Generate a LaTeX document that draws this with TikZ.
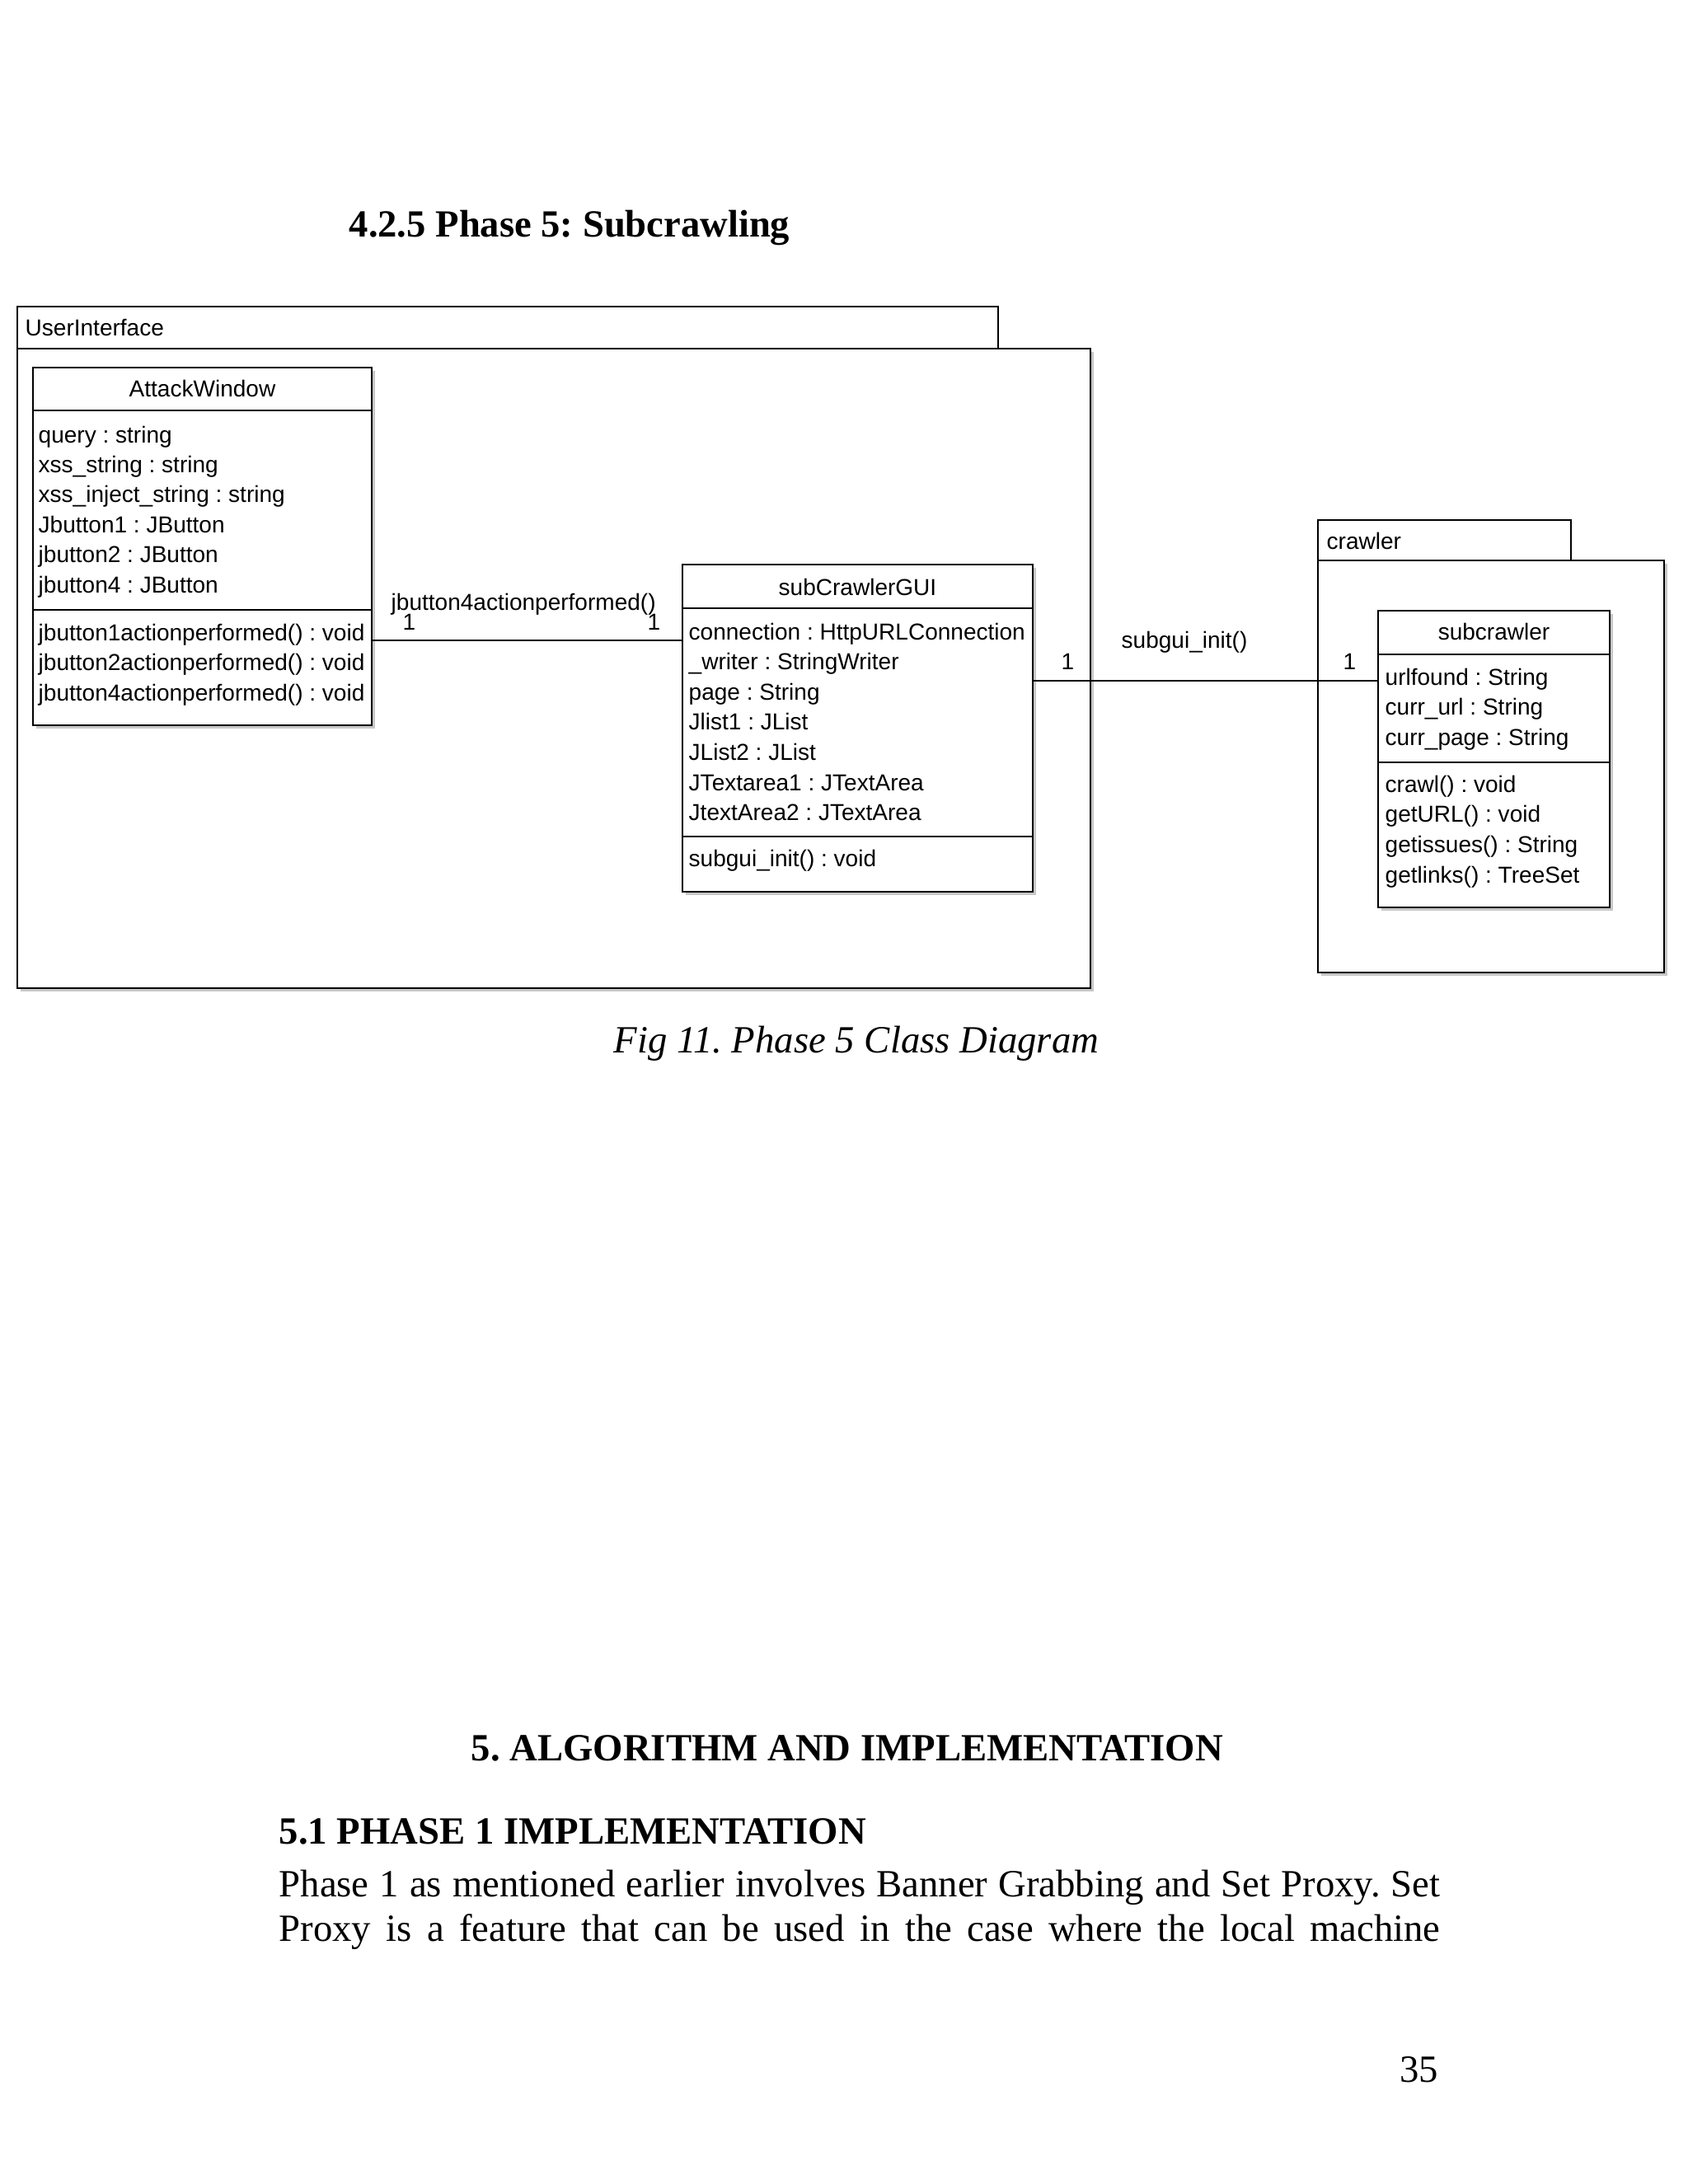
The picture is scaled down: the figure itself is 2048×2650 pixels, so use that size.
\documentclass[tikz,border=0pt]{standalone}
\usepackage{fontspec}
\setmainfont{Liberation Serif}
\newfontfamily\umlfont{Liberation Sans}
\usetikzlibrary{fit,shadows}
\frenchspacing
\begin{document}
\frenchspacing
\begin{tikzpicture}[x=0.01cm,y=-0.01cm,
  boxline/.style={draw, line width=0.8pt},
  shadowed/.style={drop shadow={shadow xshift=0.035cm, shadow yshift=-0.035cm, fill=black!22, opacity=1}},
  umlbox/.style={boxline, fill=white, inner sep=0pt, shadowed},
  pkgbody/.style={boxline, fill=white, inner sep=0pt, shadowed},
  pkgtab/.style={boxline, fill=white, inner sep=0pt},
  utxt/.style={anchor=base west, inner sep=0pt, font=\umlfont\fontsize{7.97pt}{9pt}\selectfont},
  uname/.style={anchor=base, inner sep=0pt, font=\umlfont\fontsize{7.97pt}{9pt}\selectfont},
  conn/.style={line width=0.8pt},
  serif/.style={anchor=base west, inner sep=0pt, font=\fontsize{13.29pt}{16pt}\selectfont},
]
\fill[white] (0,0) rectangle (2048,2650);
\useasboundingbox (0,0) rectangle (2048,2650);

% heading
\node[serif, font=\fontsize{13.25pt}{16pt}\selectfont\bfseries] (title) at (423,287) {4.2.5 Phase 5: Subcrawling};

% UserInterface package
\node[pkgbody, fit={(21,423) (1323,1199)}] (uibody) {};
\node[pkgtab, fit={(21,372) (1211,423)}] (uitab) {};
\node[utxt] (uilabel) at (30,407) {UserInterface};

% crawler package
\node[pkgbody, fit={(1599,680) (2019,1180)}] (crbody) {};
\node[pkgtab, fit={(1599,631) (1906,680)}] (crtab) {};
\node[utxt] (crlabel) at (1609,666) {crawler};

% AttackWindow
\node[umlbox, fit={(40,446) (451,880)}] (aw) {};
\coordinate (aw1) at (0,498);
\coordinate (aw2) at (0,740);
\draw[boxline] (aw.west |- aw1) -- (aw.east |- aw1);
\draw[boxline] (aw.west |- aw2) -- (aw.east |- aw2);
\node[uname] (awname) at (245.5,481) {AttackWindow};
\foreach \t [count=\i from 0] in {query : string, xss\_string : string, xss\_inject\_string : string, Jbutton1 : JButton, jbutton2 : JButton, jbutton4 : JButton}
  \node[utxt] (awa\i) at (46,537+36.4*\i) {\t};
\foreach \t [count=\i from 0] in {jbutton1actionperformed() : void, jbutton2actionperformed() : void, jbutton4actionperformed() : void}
  \node[utxt] (awm\i) at (46,777+36.6*\i) {\t};

% subCrawlerGUI
\node[umlbox, fit={(828,685) (1253,1082)}] (gui) {};
\coordinate (gui1) at (0,738);
\coordinate (gui2) at (0,1015);
\draw[boxline] (gui.west |- gui1) -- (gui.east |- gui1);
\draw[boxline] (gui.west |- gui2) -- (gui.east |- gui2);
\node[uname] (guiname) at (1040.5,722) {subCrawlerGUI};
\foreach \t [count=\i from 0] in {connection : HttpURLConnection, \_writer : StringWriter, page : String, Jlist1 : JList, JList2 : JList, JTextarea1 : JTextArea, JtextArea2 : JTextArea}
  \node[utxt] (guia\i) at (835,776+36.6*\i) {\t};
\node[utxt] (guim0) at (835,1051) {subgui\_init() : void};

% subcrawler
\node[umlbox, fit={(1672,741) (1953,1101)}] (sc) {};
\coordinate (sc1) at (0,794);
\coordinate (sc2) at (0,925);
\draw[boxline] (sc.west |- sc1) -- (sc.east |- sc1);
\draw[boxline] (sc.west |- sc2) -- (sc.east |- sc2);
\node[uname] (scname) at (1812.5,776) {subcrawler};
\foreach \t [count=\i from 0] in {urlfound : String, curr\_url : String, curr\_page : String}
  \node[utxt] (sca\i) at (1680,831+36.6*\i) {\t};
\foreach \t [count=\i from 0] in {crawl() : void, getURL() : void, getissues() : String, getlinks() : TreeSet}
  \node[utxt] (scm\i) at (1680,961+36.7*\i) {\t};

% connectors
\coordinate (c1) at (0,777);
\coordinate (c2) at (0,826);
\draw[conn] (aw.east |- c1) -- (gui.west |- c1);
\draw[conn] (gui.east |- c2) -- (sc.west |- c2);
\node[utxt] (l1) at (474,740) {jbutton4actionperformed()};
\node[utxt] (m1a) at (488,764) {1};
\node[utxt] (m1b) at (785,764) {1};
\node[utxt] (m2a) at (1287,812) {1};
\node[utxt] (l2) at (1360,786) {subgui\_init()};
\node[utxt] (m2b) at (1629,812) {1};

% caption and text
\node[serif, font=\fontsize{13.29pt}{16pt}\selectfont\itshape] (caption) at (744,1277) {Fig 11. Phase 5 Class Diagram};
\node[serif, font=\fontsize{13.29pt}{16pt}\selectfont\bfseries] (h5) at (571,2136) {5. ALGORITHM AND IMPLEMENTATION};
\node[serif, font=\fontsize{13.29pt}{16pt}\selectfont\bfseries] (h51) at (338,2237) {5.1 PHASE 1 IMPLEMENTATION};
\node[serif] (p1) at (338,2301) {\makebox[14.08cm][s]{Phase 1 as mentioned earlier involves Banner Grabbing and Set Proxy. Set}};
\node[serif] (p2) at (338,2355) {\makebox[14.08cm][s]{Proxy is a feature that can be used in the case where the local machine}};
\node[serif, anchor=base east] (pg) at (1746,2526) {35};
\end{tikzpicture}
\end{document}
